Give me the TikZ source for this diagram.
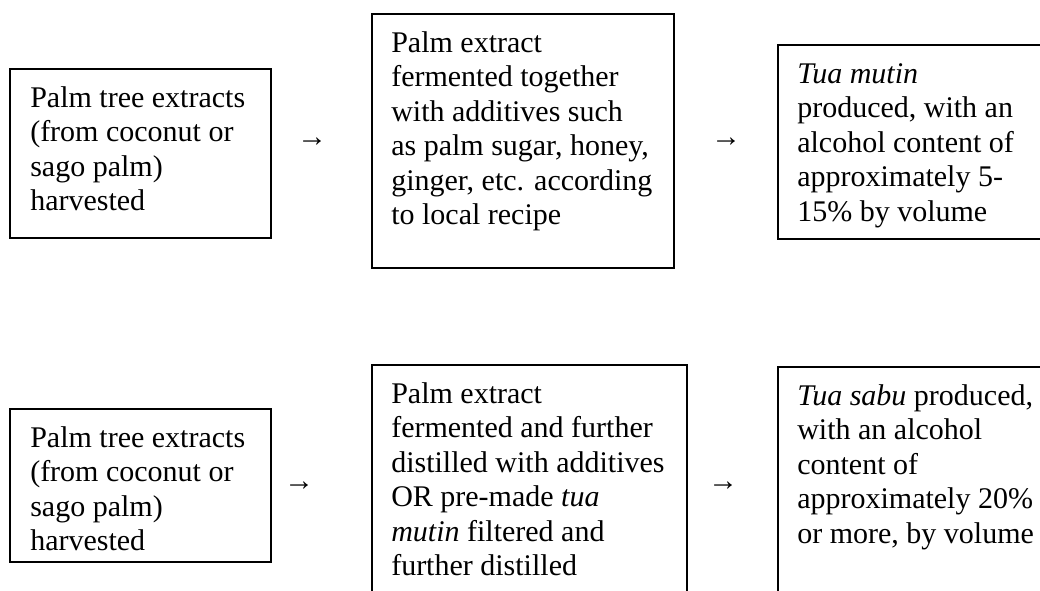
\documentclass[tikz,border=0pt]{standalone}
\usepackage{fontspec}
\setmainfont{Liberation Serif}
\usetikzlibrary{fit}
\begin{document}
\begin{tikzpicture}[x=0.75pt,y=-0.75pt,
  box/.style={draw, line width=1.3pt, inner sep=0pt},
  txt/.style={inner sep=0pt, anchor=base west, font=\fontsize{22.5pt}{25.9pt}\selectfont},
  arr/.style={inner sep=0pt, anchor=center, font=\fontsize{22.5pt}{25.9pt}\selectfont}]
\useasboundingbox (0,0) rectangle (1040,590);
% top row
\node[box, fit={(10,69) (271,238)}] (A) {};
\node[box, fit={(372,14) (674,268)}] (B) {};
\node[box, fit={(778,45) (1046,239)}] (C) {};
\node[txt] (At) at (30,107) {\parbox[t]{240pt}{Palm tree extracts\\(from coconut or\\sago palm)\\harvested}};
\node[txt] (Bt) at (391,52) {\parbox[t]{240pt}{Palm extract\\fermented together\\with additives such\\as palm sugar, honey,\\ginger, etc. according\\to local recipe}};
\node[txt] (Ct) at (797,83) {\parbox[t]{240pt}{\textit{Tua mutin}\\produced, with an\\alcohol content of\\approximately 5-\\15\% by volume}};
\node[arr] (r1) at (312,142) {→};
\node[arr] (r2) at (726,142) {→};
% bottom row
\node[box, fit={(10,409) (271,562)}] (D) {};
\node[box, fit={(372,365) (687,620)}] (E) {};
\node[box, fit={(778,367) (1046,620)}] (F) {};
\node[txt] (Dt) at (30,447) {\parbox[t]{240pt}{Palm tree extracts\\(from coconut or\\sago palm)\\harvested}};
\node[txt] (Et) at (391,403) {\parbox[t]{240pt}{Palm extract\\fermented and further\\distilled with additives\\OR pre-made \textit{tua}\\\textit{mutin} filtered and\\further distilled}};
\node[txt] (Ft) at (797,405) {\parbox[t]{240pt}{\textit{Tua sabu} produced,\\with an alcohol\\content of\\approximately 20\%\\or more, by volume}};
\node[arr] (r3) at (299,486) {→};
\node[arr] (r4) at (723,486) {→};
\end{tikzpicture}
\end{document}
